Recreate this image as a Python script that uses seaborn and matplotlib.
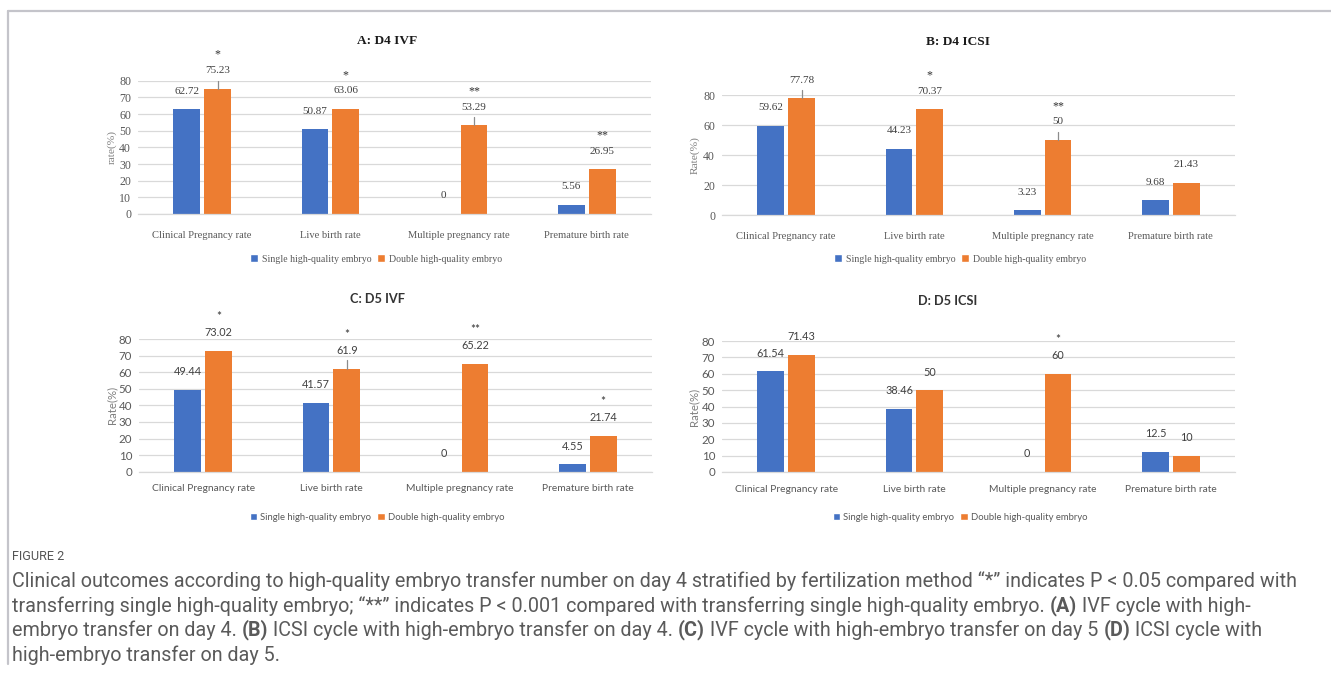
import matplotlib
matplotlib.use("Agg")
import matplotlib.pyplot as plt
from matplotlib.patches import Patch
from matplotlib.lines import Line2D
from matplotlib import font_manager
import seaborn as sns
import pandas as pd

# ---- data -------------------------------------------------------------
categories = ["Clinical Pregnancy rate", "Live birth rate",
              "Multiple pregnancy rate", "Premature birth rate"]
groups = ["Single high-quality embryo", "Double high-quality embryo"]

a_single = [62.72, 50.87, 0, 5.56]
a_double = [75.23, 63.06, 53.29, 26.95]
a_stars = ["*", "*", "**", "**"]
a_whisker = [4.8, 0, 5.0, 0]

b_single = [59.62, 44.23, 3.23, 9.68]
b_double = [77.78, 70.37, 50, 21.43]
b_stars = ["", "*", "**", ""]
b_whisker = [5.5, 0, 5.5, 0]

c_single = [49.44, 41.57, 0, 4.55]
c_double = [73.02, 61.9, 65.22, 21.74]
c_stars = ["*", "*", "**", "*"]
c_whisker = [0, 5.5, 0, 0]

d_single = [61.54, 38.46, 0, 12.5]
d_double = [71.43, 50, 60, 10]
d_stars = ["", "", "*", ""]
d_whisker = [0, 0, 0, 0]

# ---- style ------------------------------------------------------------
sns.set_theme(style="white")
BLUE, ORANGE = "#4472C4", "#ED7D31"
GRID = "#D9D9D9"
W, H = 1331, 674
SERIF = ["Liberation Serif", "DejaVu Serif"]
SANS = ["Lato", "DejaVu Sans"]
installed = {f.name for f in font_manager.fontManager.ttflist}
CAPTION_FONT = "Liberation Sans Narrow" if "Liberation Sans Narrow" in installed else "Roboto"

fig = plt.figure(figsize=(W / 100, H / 100), dpi=100)
fig.patch.set_facecolor("white")


def fx(px):
    return px / W


def fy(py):
    return 1 - py / H


panels = [
    dict(title="A: D4 IVF", single=a_single, double=a_double, stars=a_stars,
         whisker=a_whisker, box=(138, 80.7, 651, 214), ylim=80, yticks=range(0, 81, 10),
         ylabel="rate(%)", font=SERIF, tcx=387, tcy=41, lcx=376, lcy=259, cat_pad=12,
         ylab_x=112),
    dict(title="B: D4 ICSI", single=b_single, double=b_double, stars=b_stars,
         whisker=b_whisker, box=(722, 95, 1235, 215), ylim=80, yticks=range(0, 81, 20),
         ylabel="Rate(%)", font=SERIF, tcx=958, tcy=42, lcx=960, lcy=259, cat_pad=12,
         ylab_x=695),
    dict(title="C: D5 IVF", single=c_single, double=c_double, stars=c_stars,
         whisker=c_whisker, box=(139, 339, 652, 471.7), ylim=80, yticks=range(0, 81, 10),
         ylabel="Rate(%)", font=SANS, tcx=377, tcy=299, lcx=377, lcy=517, cat_pad=9,
         ylab_x=112),
    dict(title="D: D5 ICSI", single=d_single, double=d_double, stars=d_stars,
         whisker=d_whisker, box=(722, 341, 1235, 472), ylim=80, yticks=range(0, 81, 10),
         ylabel="Rate(%)", font=SANS, tcx=948, tcy=301, lcx=960, lcy=517, cat_pad=9,
         ylab_x=694),
]

for p in panels:
    l, t, r, b = p["box"]
    serif = p["font"] is SERIF
    ax = fig.add_axes([fx(l), fy(b), (r - l) / W, (b - t) / H])
    df = pd.DataFrame({
        "category": categories * 2,
        "group": [groups[0]] * 4 + [groups[1]] * 4,
        "value": list(p["single"]) + list(p["double"]),
    })
    sns.barplot(data=df, x="category", y="value", hue="group", order=categories,
                hue_order=groups, palette=[BLUE, ORANGE], saturation=1, width=0.48,
                gap=0.125, linewidth=0, errorbar=None, legend=False, ax=ax)
    ax.set_ylim(0, p["ylim"])
    ax.set_yticks(list(p["yticks"]))
    ax.set_xlim(-0.5, 3.5)
    ax.yaxis.grid(True, color=GRID, linewidth=0.9)
    ax.set_axisbelow(True)
    for s in ["top", "right", "left"]:
        ax.spines[s].set_visible(False)
    ax.spines["bottom"].set_color(GRID)
    ax.spines["bottom"].set_linewidth(0.9)
    ax.tick_params(axis="both", length=0, colors="#595959")
    ax.tick_params(axis="y", pad=5)
    ax.tick_params(axis="x", pad=p["cat_pad"])
    ax.set_xlabel("")
    ax.set_ylabel("")
    for lab in ax.get_yticklabels():
        lab.set_family(p["font"])
        lab.set_fontsize(8.6 if serif else 8.3)
    for lab in ax.get_xticklabels():
        lab.set_family(p["font"])
        lab.set_fontsize(7.6 if serif else 7.4)

    # value labels, whiskers and significance marks
    single_bars, double_bars = ax.containers[0], ax.containers[1]
    for i, (bs, bd) in enumerate(zip(single_bars, double_bars)):
        for bar, val in ((bs, p["single"][i]), (bd, p["double"][i])):
            cx = bar.get_x() + bar.get_width() / 2
            ax.annotate(f"{val:g}", (cx, val), xytext=(0, 13), textcoords="offset points",
                        ha="center", va="center", fontsize=8.0 if serif else 7.8,
                        color="#404040", family=p["font"], annotation_clip=False)
        cx = bd.get_x() + bd.get_width() / 2
        top = p["double"][i]
        if p["whisker"][i] > 0:
            ax.add_line(Line2D([cx, cx], [top, top + p["whisker"][i]], color="#8C8C8C",
                               linewidth=0.9, clip_on=False))
        if p["stars"][i]:
            ax.annotate(p["stars"][i], (cx, top), xytext=(0, 24.5), textcoords="offset points",
                        ha="center", va="center", fontsize=8.6, color="#303030",
                        family=p["font"], annotation_clip=False)

    fig.text(fx(p["ylab_x"]), fy((t + b) / 2), p["ylabel"], rotation=90, ha="center",
             va="center", fontsize=8.2, color="#7F7F7F", family=p["font"])
    fig.text(fx(p["tcx"]), fy(p["tcy"]), p["title"], ha="center", va="center",
             fontsize=9.6 if serif else 9.2, weight="bold",
             color="#1A1A1A" if serif else "#333333", family=p["font"])
    handles = [Patch(facecolor=BLUE), Patch(facecolor=ORANGE)]
    fig.legend(handles, groups, loc="center", bbox_to_anchor=(fx(p["lcx"]), fy(p["lcy"])),
               ncol=2, frameon=False, handlelength=0.8, handleheight=0.8,
               handletextpad=0.35, columnspacing=0.6, borderaxespad=0,
               prop=dict(family=p["font"], size=7.1 if serif else 6.8),
               labelcolor="#595959")

# ---- frame and caption ------------------------------------------------
FRAME = "#C4C4CA"
fig.add_artist(Line2D([fx(8), fx(W)], [fy(10.5), fy(10.5)], color=FRAME, linewidth=1.6))
fig.add_artist(Line2D([fx(8), fx(8)], [fy(10.5), fy(664)], color=FRAME, linewidth=1.6))

renderer = fig.canvas.get_renderer()


def seg_width(text, size, bold):
    kw = dict(fontsize=size, family=[CAPTION_FONT, "DejaVu Sans"],
              weight="bold" if bold else "normal")
    t1 = fig.text(0, 0, "X" + text + "X", **kw)
    t2 = fig.text(0, 0, "XX", **kw)
    w = t1.get_window_extent(renderer).width - t2.get_window_extent(renderer).width
    t1.remove()
    t2.remove()
    return w


caption_lines = [
    [("Clinical outcomes according to high-quality embryo transfer number on day 4 "
      "stratified by fertilization method \u201c*\u201d indicates P < 0.05 compared with", False)],
    [("transferring single high-quality embryo; \u201c**\u201d indicates P < 0.001 compared "
      "with transferring single high-quality embryo. ", False), ("(A)", True),
     (" IVF cycle with high-", False)],
    [("embryo transfer on day 4. ", False), ("(B)", True),
     (" ICSI cycle with high-embryo transfer on day 4. ", False), ("(C)", True),
     (" IVF cycle with high-embryo transfer on day 5 ", False), ("(D)", True),
     (" ICSI cycle with", False)],
    [("high-embryo transfer on day 5.", False)],
]
line_y = [581, 606, 630, 655]
x0 = 12

base = 12.0
w_first = sum(seg_width(s, base, bd) for s, bd in caption_lines[0])
cap_size = base * (1290 - x0) / w_first

for segs, y in zip(caption_lines, line_y):
    x = x0
    for s, bd in segs:
        fig.text(fx(x), fy(y), s, ha="left", va="center", fontsize=cap_size,
                 family=[CAPTION_FONT, "DejaVu Sans"], weight="bold" if bd else "normal",
                 color="#5A5A5A")
        x += seg_width(s, cap_size, bd)

fig.text(fx(x0), fy(557), "FIGURE 2", ha="left", va="center", fontsize=cap_size * 0.64,
         family=[CAPTION_FONT, "DejaVu Sans"], color="#555555")

fig.savefig("out.png", dpi=100, facecolor="white")
